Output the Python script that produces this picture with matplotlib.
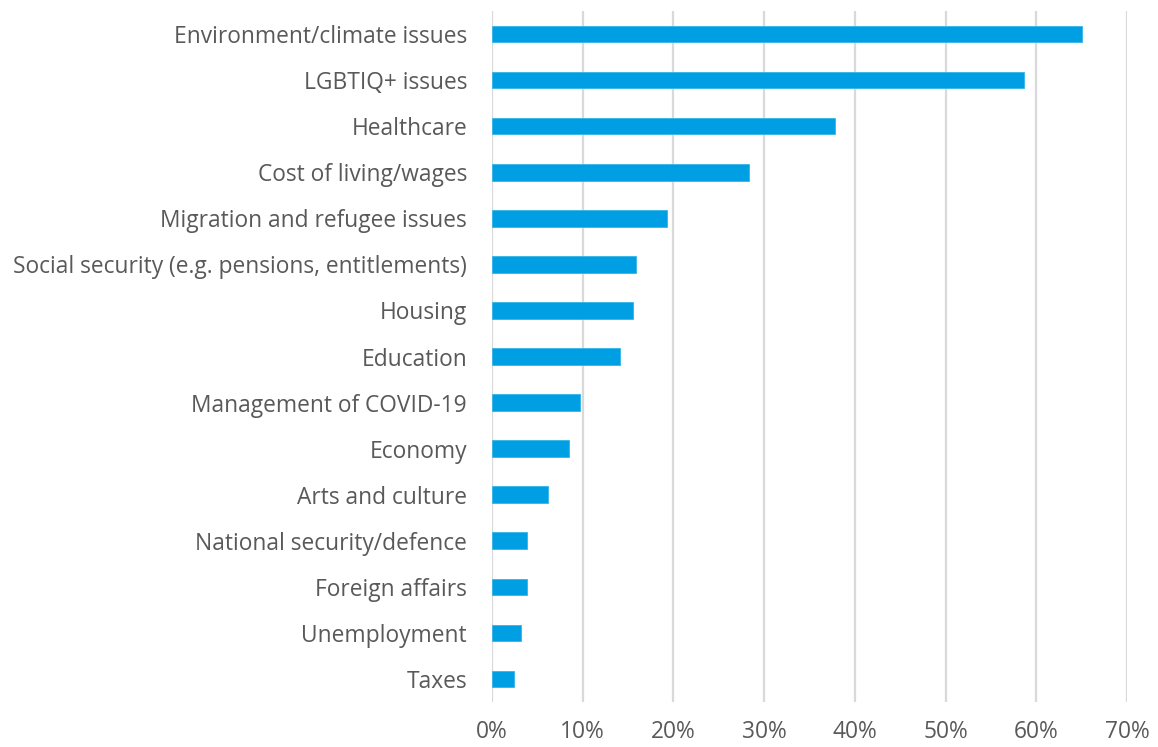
import matplotlib.pyplot as plt
from matplotlib.ticker import FuncFormatter

# issues, top to bottom as in the chart
issues = [
    "Environment/climate issues",
    "LGBTIQ+ issues",
    "Healthcare",
    "Cost of living/wages",
    "Migration and refugee issues",
    "Social security (e.g. pensions, entitlements)",
    "Housing",
    "Education",
    "Management of COVID-19",
    "Economy",
    "Arts and culture",
    "National security/defence",
    "Foreign affairs",
    "Unemployment",
    "Taxes",
]
shares = [65.0, 58.6, 37.8, 28.3, 19.3, 15.9, 15.5, 14.1, 9.7, 8.5, 6.2, 3.9, 3.9, 3.2, 2.4]
xticks = [0, 10, 20, 30, 40, 50, 60, 70]

plt.rcParams['font.family'] = ['Open Sans', 'DejaVu Sans']

fig = plt.figure(figsize=(11.58, 7.47), dpi=100)
ax = fig.add_axes([492 / 1158, 45 / 747, (1127 - 492) / 1158, (702 - 11) / 747])

pos = list(range(len(issues)))[::-1]
ax.barh(pos, shares, height=0.36, color='#009FE3', edgecolor='#33B5EA', linewidth=0.6, zorder=3)

ax.set_xlim(0, 70)
ax.set_ylim(-0.5, len(issues) - 0.5)
ax.set_xticks(xticks)
ax.xaxis.set_major_formatter(FuncFormatter(lambda v, p: f"{v:.0f}%"))
ax.set_yticks(pos)
ax.set_yticklabels(issues)
ax.grid(axis='x', color='#D9D9D9', linewidth=1.6, zorder=0)
for s in ax.spines.values():
    s.set_visible(False)
ax.tick_params(axis='both', length=0, labelsize=16.4, labelcolor='#595959')
ax.tick_params(axis='y', pad=18)
ax.tick_params(axis='x', pad=13)

fig.savefig('out.png', dpi=100)
